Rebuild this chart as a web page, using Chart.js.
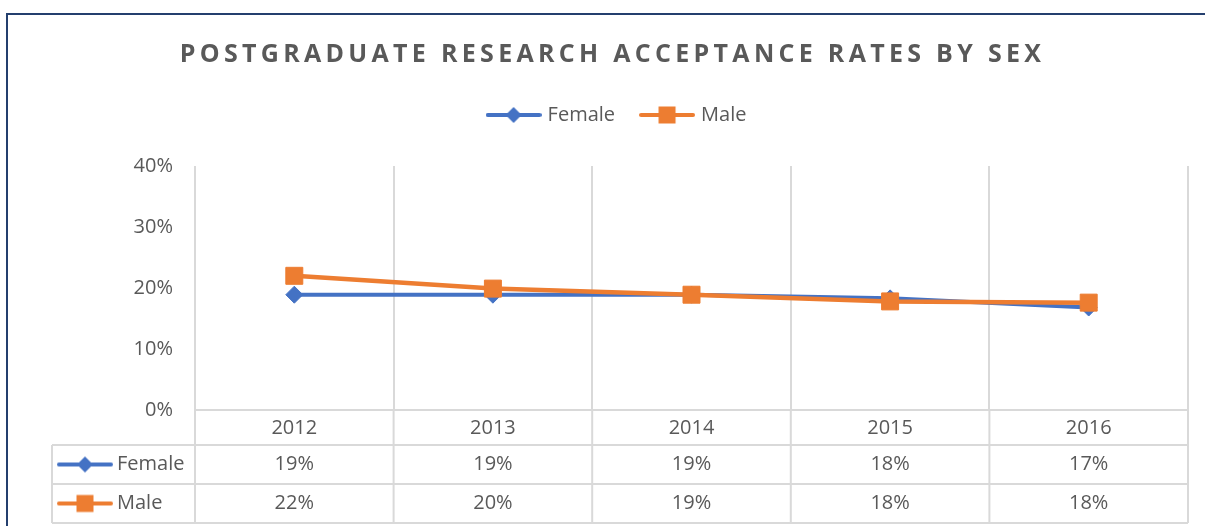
<!DOCTYPE html>
<html>
<head>
<meta charset="utf-8">
<script src="https://cdn.jsdelivr.net/npm/chart.js@4.4.1/dist/chart.umd.min.js"></script>
<style>
  html, body { margin: 0; padding: 0; background: #fff; }
  #wrap { width: 1205px; height: 526px; }
</style>
</head>
<body>
<div id="wrap"><canvas id="chart"></canvas></div>
<script>
// Acceptance rates (%)
const years = ['2012', '2013', '2014', '2015', '2016'];
const female = [18.9, 18.9, 18.9, 18.3, 16.8];
const male = [22.0, 19.9, 18.9, 17.8, 17.6];
const yMin = 0, yMax = 40, yStep = 10;

const BLUE = '#4472C4';
const ORANGE = '#ED7D31';
const TEXT = '#595959';
const GRID = '#d9d9d9';

Chart.defaults.font.family = '"Open Sans", sans-serif';
Chart.defaults.font.size = 20;
Chart.defaults.color = TEXT;

// line + marker key, used by legend and table
function makeKey(color, shape) {
    const c = document.createElement('canvas');
    c.width = 56; c.height = 24;
    const g = c.getContext('2d');
    g.strokeStyle = color; g.fillStyle = color; g.lineWidth = 4; g.lineCap = 'round';
    g.beginPath(); g.moveTo(2, 12); g.lineTo(54, 12); g.stroke();
    g.beginPath();
    if (shape === 'diamond') {
        g.moveTo(28, 4); g.lineTo(36, 12); g.lineTo(28, 20); g.lineTo(20, 12);
    } else {
        g.rect(19.5, 3.5, 17, 17);
    }
    g.fill();
    return c;
}
const femaleKey = makeKey(BLUE, 'diamond');
const maleKey = makeKey(ORANGE, 'square');

const titlePlugin = {
    id: 'spacedTitle',
    afterDraw(chart) {
        const ctx = chart.ctx;
        ctx.save();
        ctx.font = 'bold 25px "Open Sans", sans-serif';
        ctx.letterSpacing = '4.3px';
        ctx.fillStyle = TEXT;
        ctx.textAlign = 'center';
        ctx.textBaseline = 'middle';
        ctx.fillText('POSTGRADUATE RESEARCH ACCEPTANCE RATES BY SEX', chart.width / 2 + 10, 55);
        ctx.restore();
    }
};

const tablePlugin = {
    id: 'dataTable',
    afterDraw(chart) {
        const {ctx, chartArea, scales: {x}} = chart;
        const n = years.length;
        const cw = (chartArea.right - chartArea.left) / n;
        const top = chartArea.bottom;
        const r1 = top + 35, r2 = r1 + 39, r3 = r2 + 39;
        const keyLeft = 52;

        ctx.save();
        ctx.strokeStyle = GRID;
        ctx.lineWidth = 2;
        ctx.beginPath();
        for (let i = 0; i <= n; i++) {
            const px = chartArea.left + i * cw;
            ctx.moveTo(px, top); ctx.lineTo(px, r3);
        }
        ctx.moveTo(keyLeft, r1); ctx.lineTo(keyLeft, r3);
        [r1, r2, r3].forEach(y => { ctx.moveTo(keyLeft, y); ctx.lineTo(chartArea.right, y); });
        ctx.stroke();

        const rows = [
            {label: 'Female', data: female, key: femaleKey, y: (r1 + r2) / 2},
            {label: 'Male', data: male, key: maleKey, y: (r2 + r3) / 2}
        ];
        ctx.font = '20px "Open Sans", sans-serif';
        ctx.fillStyle = TEXT;
        ctx.textBaseline = 'middle';
        rows.forEach(row => {
            ctx.drawImage(row.key, keyLeft + 5, row.y - 12);
            ctx.textAlign = 'left';
            ctx.fillText(row.label, keyLeft + 65, row.y);
            ctx.textAlign = 'center';
            row.data.forEach((v, i) => {
                ctx.fillText(Math.round(v) + '%', x.getPixelForValue(i), row.y);
            });
        });

        // chart frame (left and top edges)
        ctx.strokeStyle = '#243f6e';
        ctx.lineWidth = 2;
        ctx.beginPath();
        ctx.moveTo(7, chart.height); ctx.lineTo(7, 14); ctx.lineTo(chart.width, 14);
        ctx.stroke();
        ctx.restore();
    }
};

new Chart(document.getElementById('chart'), {
    type: 'line',
    data: {
        labels: years,
        datasets: [
            {
                label: 'Female',
                data: female,
                borderColor: BLUE,
                backgroundColor: BLUE,
                borderWidth: 4,
                pointStyle: 'rectRot',
                pointRadius: 8.5,
                pointBorderWidth: 1,
                order: 0
            },
            {
                label: 'Male',
                data: male,
                borderColor: ORANGE,
                backgroundColor: ORANGE,
                borderWidth: 4.5,
                pointStyle: 'rect',
                pointRadius: 12,
                pointBorderWidth: 1,
                order: -1
            }
        ]
    },
    options: {
        responsive: true,
        maintainAspectRatio: false,
        animation: false,
        layout: {
            padding: {top: 77, right: 17, bottom: 81, left: 48}
        },
        plugins: {
            title: {display: false},
            // empty subtitle used as a spacer between legend and plot
            subtitle: {
                display: true,
                text: '',
                weight: 500,
                font: {size: 10, lineHeight: 1},
                padding: {top: 0, bottom: 21}
            },
            tooltip: {enabled: false},
            legend: {
                position: 'top',
                labels: {
                    usePointStyle: true,
                    pointStyleWidth: 48,
                    padding: 28,
                    color: TEXT,
                    font: {size: 20},
                    sort: (a, b) => a.datasetIndex - b.datasetIndex,
                    generateLabels: chart => chart.data.datasets.map((ds, i) => ({
                        text: ds.label,
                        datasetIndex: i,
                        pointStyle: i === 0 ? femaleKey : maleKey,
                        fontColor: TEXT,
                        lineWidth: 0,
                        hidden: false
                    }))
                }
            }
        },
        scales: {
            x: {
                offset: true,
                grid: {display: true, offset: true, color: GRID, lineWidth: 2, drawTicks: false},
                border: {display: true, color: GRID, width: 2},
                ticks: {padding: 6, color: TEXT},
                afterFit: scale => { scale.height = 35; }
            },
            y: {
                min: yMin,
                max: yMax,
                ticks: {stepSize: yStep, padding: 22, color: TEXT, callback: v => v + '%'},
                grid: {display: false, drawTicks: false},
                border: {display: false},
                afterFit: scale => { scale.width = 147; }
            }
        }
    },
    plugins: [titlePlugin, tablePlugin]
});
</script>
</body>
</html>
